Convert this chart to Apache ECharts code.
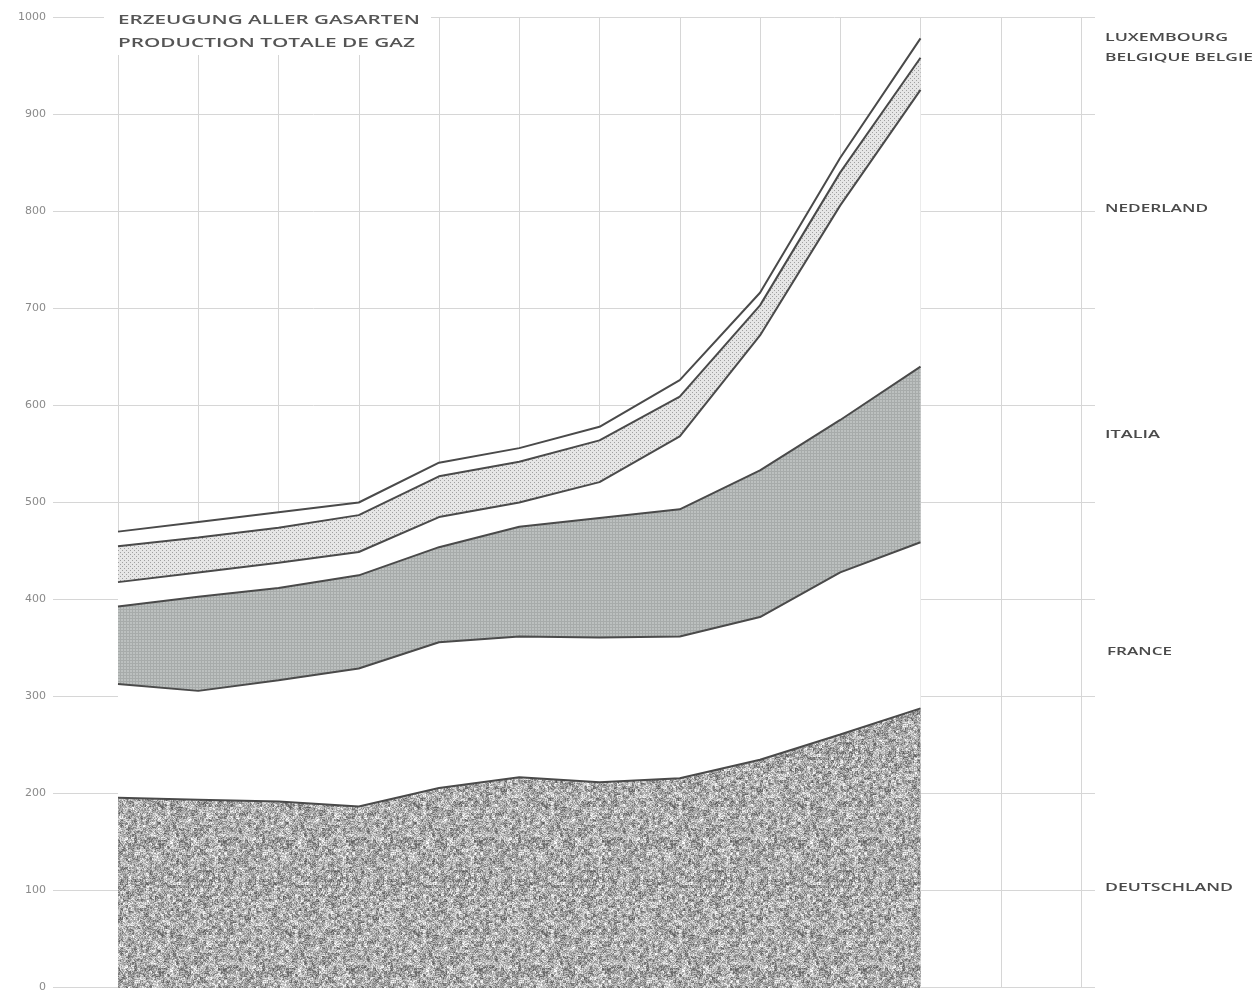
<!DOCTYPE html>
<html>
<head>
<meta charset="utf-8">
<script src="https://cdn.jsdelivr.net/npm/echarts@6/dist/echarts.min.js"></script>
<style>
html,body{margin:0;padding:0;background:#fff;}
#chart{width:1260px;height:993px;}
</style>
</head>
<body>
<div id="chart"></div>
<script>
// ---- data (layer values, stacked) ----
const years = ['1958','1959','1960','1961','1962','1963','1964','1965','1966','1967','1968','1969','1970'];
const deutschland = [196, 194, 192, 187, 206, 217, 212, 216, 235, 261, 288];
const france      = [117, 112, 125, 142, 150, 145, 149, 146, 147, 167, 171];
const italia      = [ 80,  97,  95,  96,  98, 113, 123, 131, 151, 157, 181];
const nederland   = [ 25,  25,  26,  24,  31,  25,  37,  75, 139, 221, 285];
const belgique    = [ 37,  36,  36,  38,  42,  42,  43,  41,  31,  34,  33];
const luxembourg  = [ 15,  16,  16,  13,  14,  14,  14,  17,  13,  15,  20];
const yTicks = [0,100,200,300,400,500,600,700,800,900,1000];
const titleLines = ['ERZEUGUNG ALLER GASARTEN', 'PRODUCTION TOTALE DE GAZ'];
const countryLabels = ['LUXEMBOURG', 'BELGIQUE BELGIE', 'NEDERLAND', 'ITALIA', 'FRANCE', 'DEUTSCHLAND'];

// ---- texture patterns (style only) ----
function hash(x, y) {
  const s = Math.sin(x * 12.9898 + y * 78.233) * 43758.5453;
  return s - Math.floor(s);
}
function speckle() {
  const n = 128;
  const c = document.createElement('canvas'); c.width = n; c.height = n;
  const g = c.getContext('2d');
  const img = g.createImageData(n, n);
  for (let y = 0; y < n; y++) for (let x = 0; x < n; x++) {
    const h = 0.55 * hash(x, y) + 0.45 * hash(Math.floor(x / 3) + 500, Math.floor(y / 3) + 300);
    const v = Math.round(85 + h * 175);
    const i = (y * n + x) * 4;
    img.data[i] = v; img.data[i + 1] = v; img.data[i + 2] = v; img.data[i + 3] = 255;
  }
  g.putImageData(img, 0, 0);
  return c;
}
function hatch() {
  const c = document.createElement('canvas'); c.width = 3; c.height = 3;
  const g = c.getContext('2d');
  g.fillStyle = '#bcc0bf'; g.fillRect(0, 0, 3, 3);
  g.fillStyle = '#a7abaa'; g.fillRect(0, 0, 3, 1); g.fillRect(0, 0, 1, 3);
  return c;
}
function dots() {
  const c = document.createElement('canvas'); c.width = 4; c.height = 4;
  const g = c.getContext('2d');
  g.fillStyle = '#e6e6e6'; g.fillRect(0, 0, 4, 4);
  g.fillStyle = '#a0a0a0'; g.fillRect(0, 0, 1, 1); g.fillRect(2, 2, 1, 1);
  return c;
}

const measure = document.createElement('canvas').getContext('2d');
function fitText(text, font, x, y, w, fill) {
  measure.font = font;
  const nat = measure.measureText(text).width;
  return {
    type: 'text', x: x, y: y, scaleX: w / nat, z: 110,
    style: { text: text, font: font, fill: fill, verticalAlign: 'middle', textAlign: 'left' }
  };
}

const chart = echarts.init(document.getElementById('chart'));
const lineStyle = { color: '#4a4a4a', width: 2 };
function layer(name, data, fill) {
  return {
    name: name, type: 'line', stack: 'total', data: data,
    xAxisIndex: 1, yAxisIndex: 1, showSymbol: false, symbol: 'none',
    lineStyle: lineStyle, areaStyle: { color: fill, opacity: 1 },
    emphasis: { disabled: true }, silent: true, animation: false
  };
}

const titleFont = '600 12px "Open Sans"';
const labFont = '600 10px "Open Sans"';
const labCol = '#4a4a4a';

chart.setOption({
  animation: false,
  backgroundColor: '#ffffff',
  grid: [
    { left: 53, right: 165, top: 17, bottom: 5 },
    { left: 118, right: 179, top: 17, bottom: 5 }
  ],
  xAxis: [
    { type: 'value', gridIndex: 0, show: false, min: 0, max: 1 },
    { type: 'category', gridIndex: 1, data: years, boundaryGap: false,
      axisLine: { show: false }, axisTick: { show: false }, axisLabel: { show: false },
      splitLine: { show: true, interval: 0, lineStyle: { color: '#d6d6d6', width: 1 } } }
  ],
  yAxis: [
    { type: 'value', gridIndex: 0, min: yTicks[0], max: yTicks[yTicks.length - 1], interval: 100,
      axisLine: { show: false }, axisTick: { show: false },
      axisLabel: { margin: 7, color: '#8a8a8a', fontSize: 11, fontFamily: 'DejaVu Sans',
                   formatter: function (v) { return String(v); } },
      splitLine: { show: true, lineStyle: { color: '#d6d6d6', width: 1 } } },
    { type: 'value', gridIndex: 1, min: 0, max: 1000, show: false, splitLine: { show: false } }
  ],
  series: [
    layer('DEUTSCHLAND', deutschland, { image: speckle(), repeat: 'repeat' }),
    layer('FRANCE', france, '#ffffff'),
    layer('ITALIA', italia, { image: hatch(), repeat: 'repeat' }),
    layer('NEDERLAND', nederland, '#ffffff'),
    layer('BELGIQUE BELGIE', belgique, { image: dots(), repeat: 'repeat' }),
    layer('LUXEMBOURG', luxembourg, '#ffffff')
  ],
  graphic: [
    { type: 'rect', z: 100, shape: { x: 104, y: 6, width: 327, height: 49 }, style: { fill: '#ffffff' } },
    fitText(titleLines[0], titleFont, 118, 21, 302, '#555'),
    fitText(titleLines[1], titleFont, 118, 44, 297, '#555'),
    fitText(countryLabels[0], labFont, 1105, 38, 123, labCol),
    fitText(countryLabels[1], labFont, 1105, 58, 148, labCol),
    fitText(countryLabels[2], labFont, 1105, 209, 103, labCol),
    fitText(countryLabels[3], labFont, 1105, 435, 55, labCol),
    fitText(countryLabels[4], labFont, 1107, 652, 65, labCol),
    fitText(countryLabels[5], labFont, 1105, 888, 128, labCol)
  ]
});
</script>
</body>
</html>
